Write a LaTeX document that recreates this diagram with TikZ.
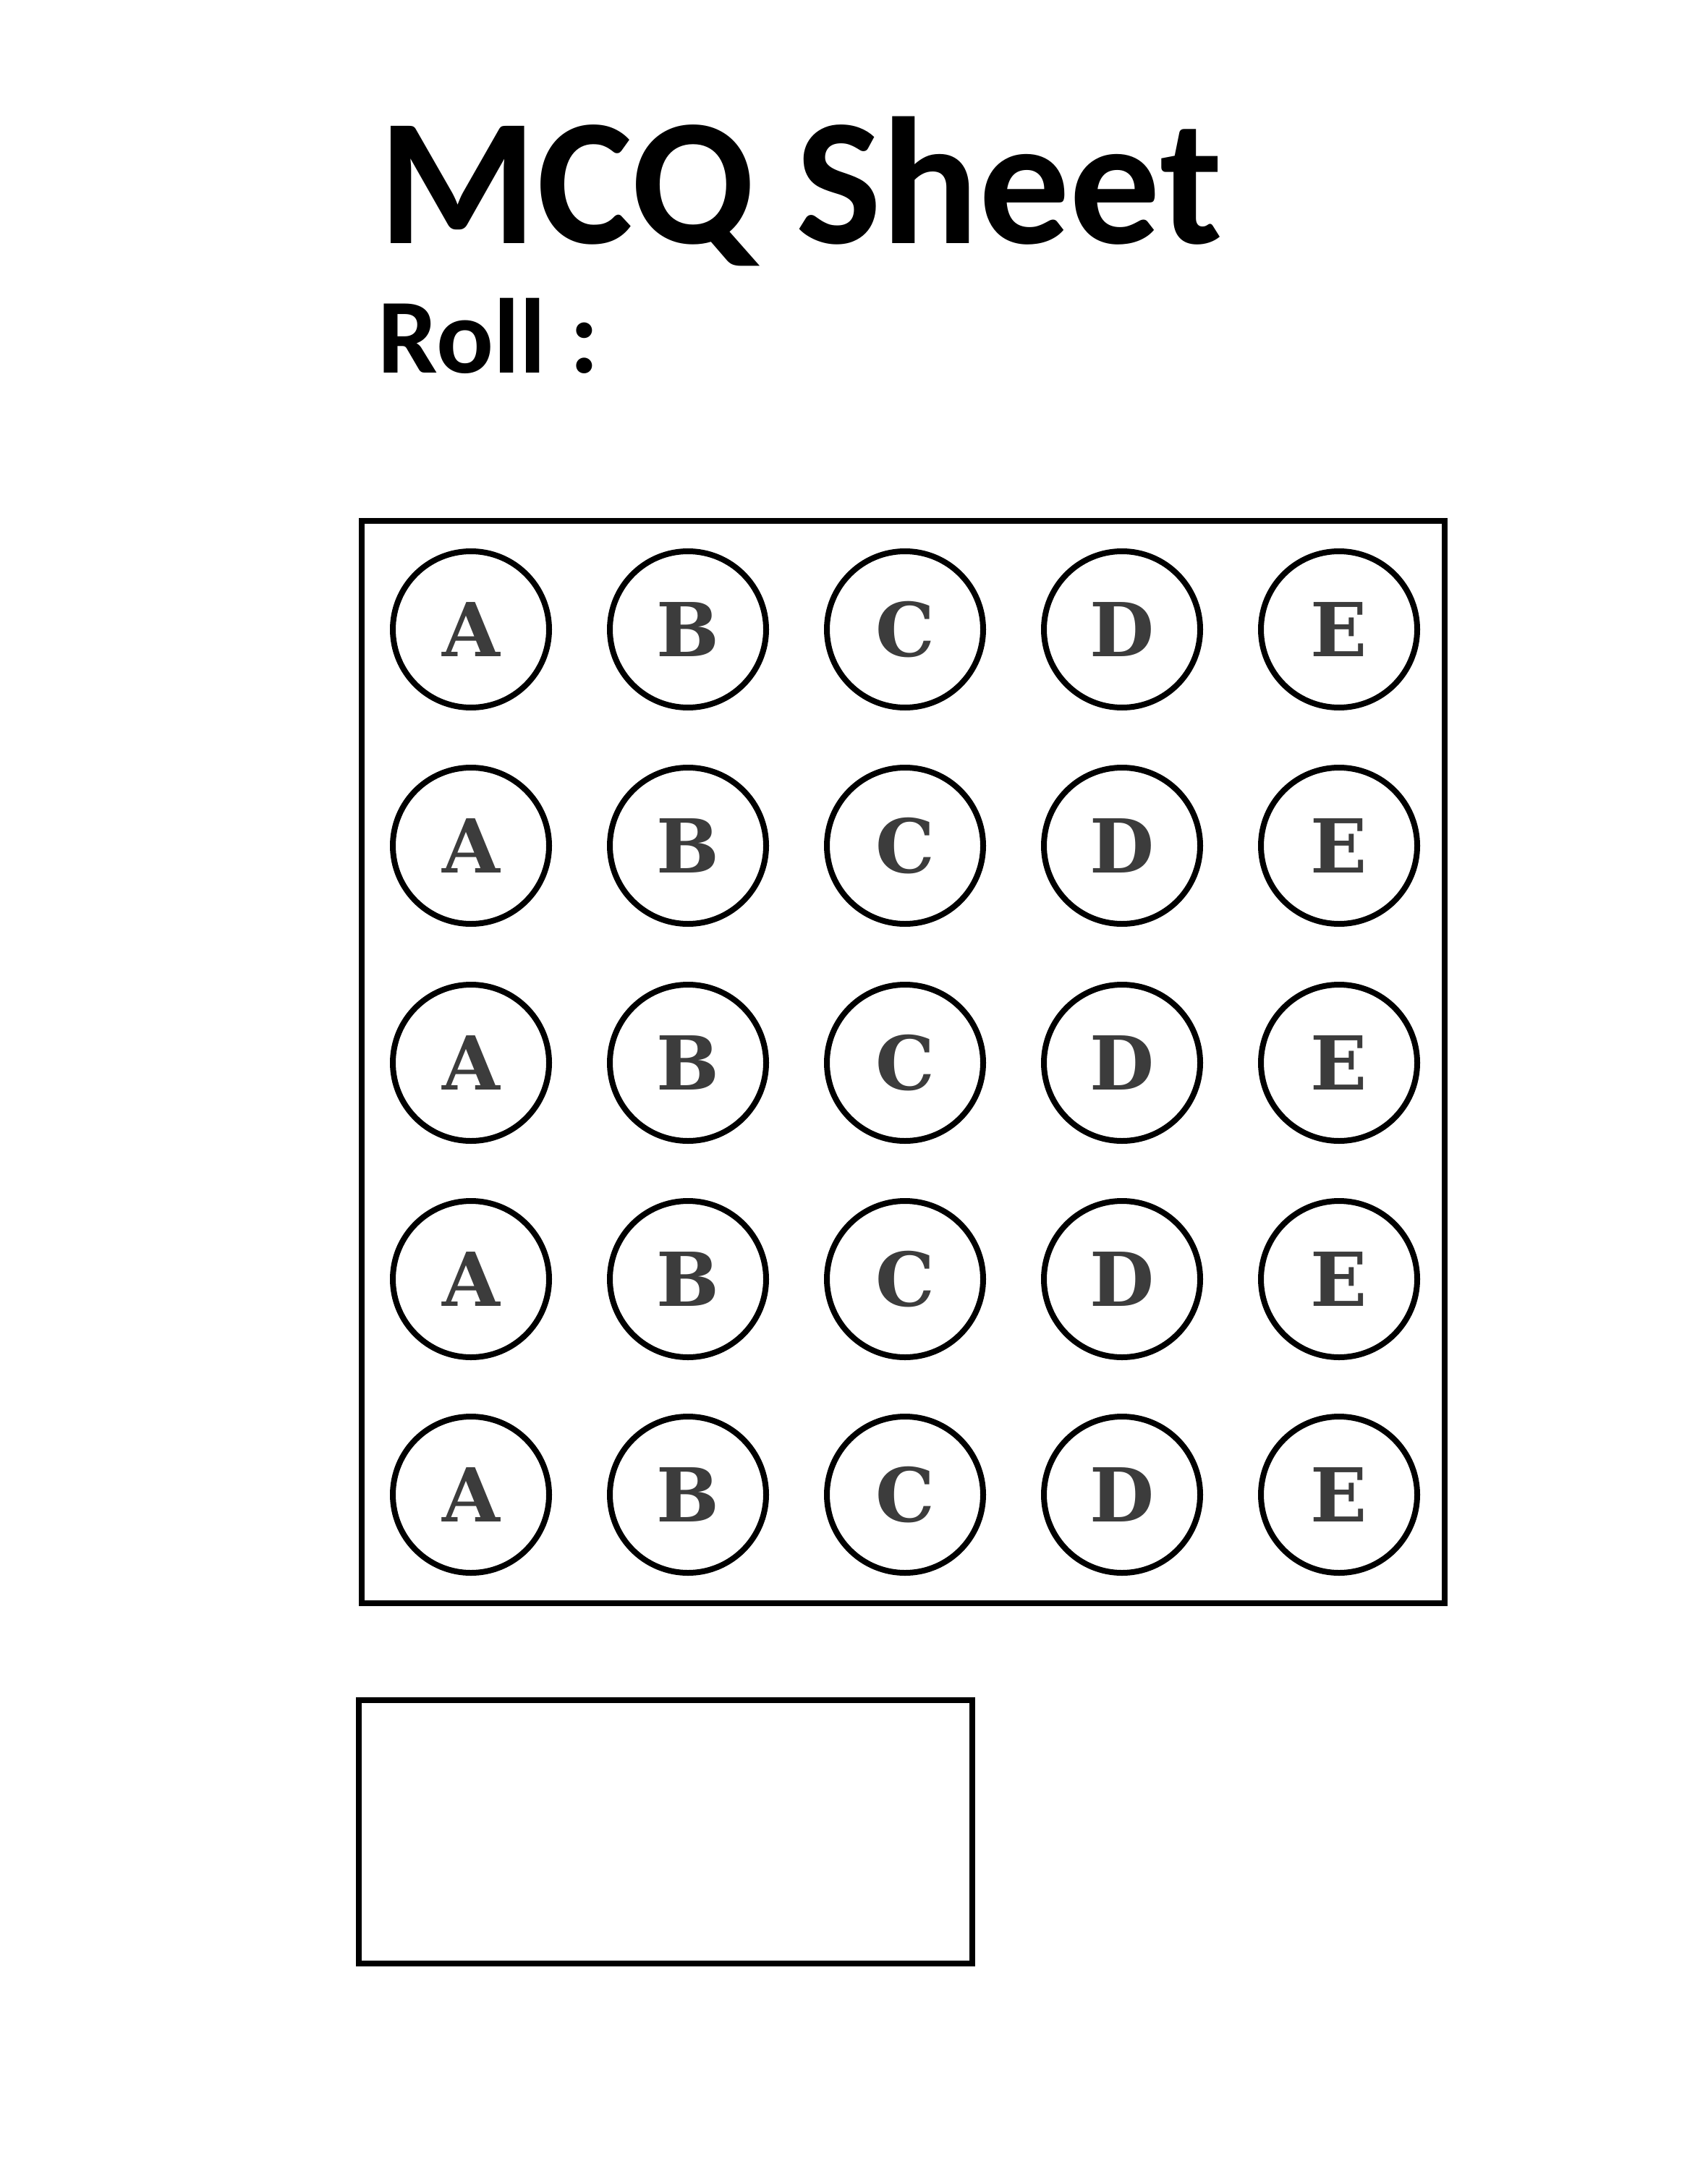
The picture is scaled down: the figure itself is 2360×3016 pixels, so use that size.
\documentclass[tikz,border=0pt]{standalone}
\usepackage{fontspec}
\usepackage{xcolor}
\usepackage{tikz}
\setmainfont{Carlito}
\newfontfamily\optfont{DejaVu Serif}
\definecolor{lettergray}{HTML}{3C3C3C}
\tikzset{
  bubble/.style={draw, circle, line width=2pt, minimum size=54pt, inner sep=0pt,
    text=lettergray, font=\optfont\bfseries\fontsize{25.7}{25.7}\selectfont},
  frame/.style={draw, line width=2pt}
}

\begin{document}
\begin{tikzpicture}[x=0.25pt, y=-0.25pt]
\useasboundingbox (0,0) rectangle (2360,3016);
\node [anchor=base west, inner sep=0pt, font=\bfseries\fontsize{62.5}{62.5}\selectfont] (title) at (523,337) {MCQ Sheet};
\node [anchor=base west, inner sep=0pt, font=\bfseries\fontsize{36.8}{36.8}\selectfont] (roll) at (522,516) {Roll :};
\draw [frame] (500,720) rectangle (1997,2216);
\node [bubble] (A1) at (651,870) {A};
\node [bubble] (B1) at (951,870) {B};
\node [bubble] (C1) at (1251,870) {C};
\node [bubble] (D1) at (1551,870) {D};
\node [bubble] (E1) at (1851,870) {E};
\node [bubble] (A2) at (651,1169) {A};
\node [bubble] (B2) at (951,1169) {B};
\node [bubble] (C2) at (1251,1169) {C};
\node [bubble] (D2) at (1551,1169) {D};
\node [bubble] (E2) at (1851,1169) {E};
\node [bubble] (A3) at (651,1469) {A};
\node [bubble] (B3) at (951,1469) {B};
\node [bubble] (C3) at (1251,1469) {C};
\node [bubble] (D3) at (1551,1469) {D};
\node [bubble] (E3) at (1851,1469) {E};
\node [bubble] (A4) at (651,1768) {A};
\node [bubble] (B4) at (951,1768) {B};
\node [bubble] (C4) at (1251,1768) {C};
\node [bubble] (D4) at (1551,1768) {D};
\node [bubble] (E4) at (1851,1768) {E};
\node [bubble] (A5) at (651,2066) {A};
\node [bubble] (B5) at (951,2066) {B};
\node [bubble] (C5) at (1251,2066) {C};
\node [bubble] (D5) at (1551,2066) {D};
\node [bubble] (E5) at (1851,2066) {E};
\draw [frame] (496,2350) rectangle (1344,2714);
\end{tikzpicture}
\end{document}
